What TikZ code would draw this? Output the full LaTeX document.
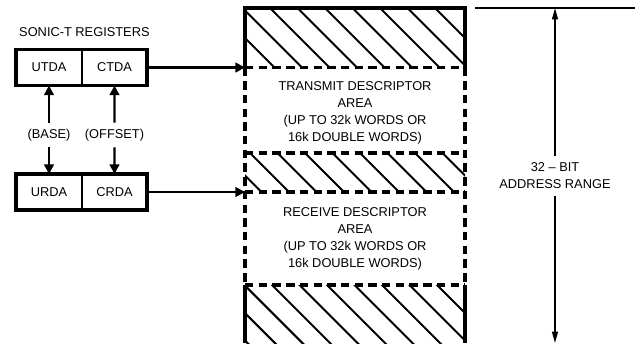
\documentclass[tikz,border=0pt]{standalone}
\usepackage{fontspec}
\setmainfont{Liberation Sans}
\usetikzlibrary{positioning,arrows.meta}

\begin{document}
\begin{tikzpicture}[x=0.02cm,y=-0.02cm,
  font=\fontsize{7.3}{9.7}\selectfont,
  >={Triangle[length=5.5pt,width=5.5pt]},
  regbox/.style={draw,line width=1.2pt,minimum height=0.72cm,inner sep=0pt,outer sep=0pt},
  arrline/.style={line width=1.4pt},
  memdash/.style={line width=1.8pt,dash pattern=on 4.8pt off 3pt},
  dimline/.style={line width=0.8pt,>={Triangle[length=6.5pt,width=3.4pt]}}]
\useasboundingbox (0,0) rectangle (635,343);

% hatched parts of the memory
\foreach \ya/\yb in {8/67.5,153/192,285/343}{
  \begin{scope}
    \clip (245,\ya) rectangle (465,\yb);
    \foreach \k in {-13,...,7}
      \draw[line width=1.2pt] (262+27.5*\k,0) -- ++(350,350);
  \end{scope}
}
\draw[line width=1.8pt] (245,67.5) -- (245,8) -- (465,8) -- (465,67.5);
\draw[line width=1.8pt] (245,285) -- (245,343);
\draw[line width=1.8pt] (465,285) -- (465,343);
\draw[memdash] (245,67.5) -- (465,67.5);
\draw[memdash] (245,153) -- (465,153);
\draw[memdash] (245,192) -- (465,192);
\draw[memdash] (245,285) -- (465,285);
\draw[memdash] (245,67.5) -- (245,285);
\draw[memdash] (465,67.5) -- (465,285);

\coordinate (txtop) at (245,67.5);
\coordinate (rxtop) at (245,192);

\node[align=center] (txarea) at (355,113) {TRANSMIT DESCRIPTOR\\AREA\\(UP TO 32k WORDS OR\\16k DOUBLE WORDS)};
\node[align=center] (rxarea) at (355,239) {RECEIVE DESCRIPTOR\\AREA\\(UP TO 32k WORDS OR\\16k DOUBLE WORDS)};

% registers
\node[anchor=west] (title) at (13,32) {SONIC-T REGISTERS};
\node[regbox,minimum width=1.32cm] (utda) at (49,67.5) {UTDA};
\node[regbox,minimum width=1.3cm,right=0pt of utda] (ctda) {CTDA};
\node[regbox,minimum width=1.32cm] (urda) at (49,192) {URDA};
\node[regbox,minimum width=1.3cm,right=0pt of urda] (crda) {CRDA};
\draw[line width=2pt] (utda.north west) rectangle (ctda.south east);
\draw[line width=2pt] (urda.north west) rectangle (crda.south east);

\node[inner sep=3.5pt] (base) at (49,135) {(BASE)};
\node[inner sep=3.5pt] (offset) at (114.5,135) {(OFFSET)};
\draw[arrline,->] (base) -- (utda);
\draw[arrline,->] (base) -- (urda);
\draw[arrline,->] (offset) -- (ctda);
\draw[arrline,->] (offset) -- (crda);

\draw[arrline,->] (ctda) -- (txtop);
\draw[arrline,->] (crda) -- (rxtop);

% address range
\coordinate (dimtop) at (555,8);
\coordinate (dimbot) at (555,343);
\node[align=center,inner sep=3.5pt] (range) at (555,176) {32 -- BIT\\ADDRESS RANGE};
\draw[dimline,->] (range) -- (dimtop);
\draw[dimline,->] (range) -- (dimbot);
\draw[line width=1.2pt] (475,8) -- (635,8);
\end{tikzpicture}
\end{document}
